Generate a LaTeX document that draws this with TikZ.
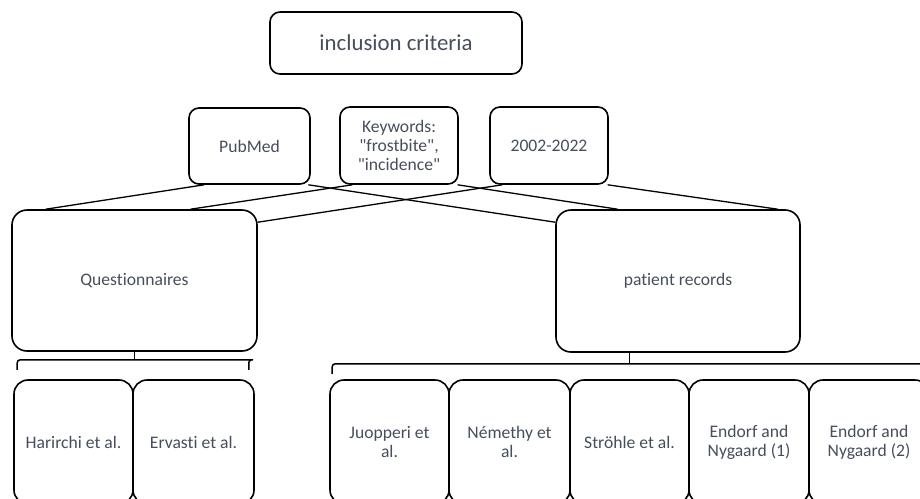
\documentclass[tikz,border=0pt]{standalone}
\usepackage{fontspec}
\setmainfont{Carlito}[Ligatures={NoCommon}]
\usetikzlibrary{calc}
\definecolor{txt}{RGB}{70,78,92}
\newcommand{\dq}{\textquotedbl}
\begin{document}
\begin{tikzpicture}[x=1pt,y=-1pt,
  box/.style={draw=black, line width=1.6pt, rounded corners=10pt, align=center,
    text=txt, inner sep=0pt, font=\fontsize{17.6}{19}\selectfont},
  bigbox/.style={box, rounded corners=15pt},
  leaf/.style={box, rounded corners=14pt, minimum height=124pt},
  conn/.style={draw=black, line width=1.3pt},
  brace/.style={draw=black, line width=1.5pt, rounded corners=3pt}]
\clip (0,0) rectangle (920,498);
\useasboundingbox (0,0) rectangle (920,498);
% top
\node[box, minimum width=252pt, minimum height=62pt, font=\fontsize{22.8}{27}\selectfont] (title) at (396,43) {inclusion criteria};
% criteria
\node[box, minimum width=121pt, minimum height=76pt] (pub) at (249.5,146) {PubMed};
\node[box, minimum width=118pt, minimum height=77pt] (key) at (399,145.5) {Keywords:\\\dq frostbite\dq,\\\dq incidence\dq};
\node[box, minimum width=118pt, minimum height=77pt] (yrs) at (549,145.5) {2002-2022};
% categories
\node[bigbox, minimum width=245pt, minimum height=141pt] (q) at (134.5,280.5) {Questionnaires};
\node[bigbox, minimum width=244pt, minimum height=142pt] (pat) at (678,281) {patient records};
% connectors
\draw[conn] ($(pub.south west)!0.13!(pub.south east)$) -- ($(q.north west)!0.14!(q.north east)$);
\draw[conn] ($(pub.south west)!0.98!(pub.south east)$) -- ($(pat.north west)+(0,13)$);
\draw[conn] ($(key.south west)!0.11!(key.south east)$) -- ($(q.north west)!0.727!(q.north east)$);
\draw[conn] ($(key.south west)!0.99!(key.south east)$) -- ($(pat.north west)!0.254!(pat.north east)$);
\draw[conn] ($(yrs.south west)!0.11!(yrs.south east)$) -- ($(q.north east)+(0,13)$);
\draw[conn] ($(yrs.south west)!0.99!(yrs.south east)$) -- ($(pat.north west)!0.906!(pat.north east)$);
% leaves
\node[leaf, minimum width=119pt] (har) at (73.5,442) {Harirchi et al.};
\node[leaf, minimum width=121pt] (erv) at (193.5,442) {Ervasti et al.};
\node[leaf, minimum width=119pt] (juo) at (389.5,442) {Juopperi et\\al.};
\node[leaf, minimum width=121pt] (nem) at (509.5,442) {Némethy et\\al.};
\node[leaf, minimum width=119pt] (str) at (629.5,442) {Ströhle et al.};
\node[leaf, minimum width=120pt] (end1) at (749,442) {Endorf and\\Nygaard (1)};
\node[leaf, minimum width=120pt] (end2) at (869,442) {Endorf and\\Nygaard (2)};
% brackets
\coordinate (qb) at ($(q.south)+(0,8)$);
\draw[brace] (q.south) -- (qb);
\draw[brace] (qb -| har.north west) ++(4,10) -- ++(0,-10) -- (qb -| erv.north east) -- ++(-6,0) -- ++(0,10);
\coordinate (pa) at ($(pat.south west)!0.303!(pat.south east)$);
\coordinate (pb) at ($(pa)+(0,11)$);
\draw[brace] (pa) -- (pb);
\draw[brace] (pb -| juo.north west) ++(3,10) -- ++(0,-10) -- (pb -| end2.north east) -- ++(10,0);
\end{tikzpicture}
\end{document}
